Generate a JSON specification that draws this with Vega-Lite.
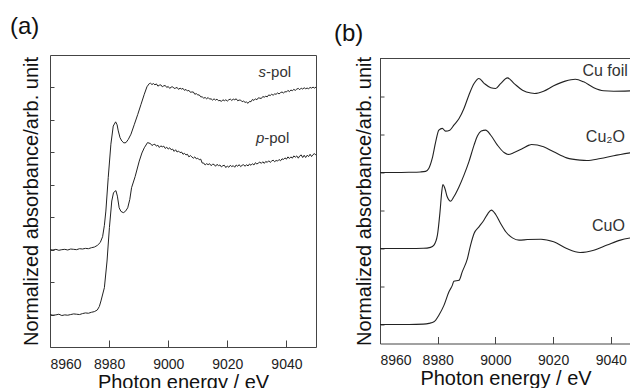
{
  "$schema": "https://vega.github.io/schema/vega-lite/v6.json",
  "padding": {"left": 9, "top": 14, "right": 0, "bottom": 0},
  "spacing": 64,
  "bounds": "flush",
  "center": true,
  "config": {
    "font": "Liberation Sans",
    "axis": {"labelFont": "Liberation Sans", "labelFontSize": 14, "labelColor": "#222", "titleFont": "Liberation Sans", "titleFontSize": 20, "titleFontWeight": "normal", "titleColor": "#111", "tickColor": "#444", "domainColor": "#444", "grid": false},
    "title": {"font": "Liberation Sans", "fontSize": 24, "fontWeight": "normal", "color": "#111", "anchor": "start", "frame": "group"}
  },
  "datasets": {
    "a": [
      {"series":"s","E":8960,"A":3.00},{"series":"s","E":8961,"A":2.99},{"series":"s","E":8962,"A":3.01},{"series":"s","E":8963,"A":2.98},{"series":"s","E":8964,"A":3.00},{"series":"s","E":8965,"A":3.01},{"series":"s","E":8966,"A":2.99},{"series":"s","E":8967,"A":3.02},{"series":"s","E":8968,"A":3.01},{"series":"s","E":8969,"A":3.00},{"series":"s","E":8970,"A":3.03},{"series":"s","E":8971,"A":3.02},{"series":"s","E":8972,"A":3.04},{"series":"s","E":8973,"A":3.03},{"series":"s","E":8974,"A":3.06},{"series":"s","E":8975,"A":3.08},{"series":"s","E":8976,"A":3.13},{"series":"s","E":8977,"A":3.22},{"series":"s","E":8977.8,"A":3.40},{"series":"s","E":8978.4,"A":3.75},{"series":"s","E":8978.9,"A":4.19},{"series":"s","E":8979.7,"A":5.22},{"series":"s","E":8980.6,"A":6.25},{"series":"s","E":8981.4,"A":6.81},{"series":"s","E":8982.2,"A":6.94},{"series":"s","E":8982.7,"A":6.85},{"series":"s","E":8983.1,"A":6.66},{"series":"s","E":8983.7,"A":6.45},{"series":"s","E":8984.3,"A":6.35},{"series":"s","E":8985.0,"A":6.29},{"series":"s","E":8985.7,"A":6.30},{"series":"s","E":8986.5,"A":6.40},{"series":"s","E":8987.4,"A":6.56},{"series":"s","E":8988.5,"A":6.85},{"series":"s","E":8989.7,"A":7.17},{"series":"s","E":8990.8,"A":7.48},{"series":"s","E":8991.9,"A":7.79},{"series":"s","E":8992.8,"A":8.02},{"series":"s","E":8993.6,"A":8.12},
      {"series":"s","E":8994.0,"A":8.13},{"series":"s","E":8994.5,"A":8.09},{"series":"s","E":8995.0,"A":8.12},{"series":"s","E":8995.5,"A":8.08},{"series":"s","E":8996.0,"A":8.11},{"series":"s","E":8996.5,"A":8.04},{"series":"s","E":8997.0,"A":8.07},{"series":"s","E":8997.5,"A":8.08},{"series":"s","E":8998.0,"A":8.02},{"series":"s","E":8998.5,"A":8.05},{"series":"s","E":8999.0,"A":8.06},{"series":"s","E":8999.5,"A":8.00},{"series":"s","E":9000.0,"A":8.03},{"series":"s","E":9000.5,"A":7.97},{"series":"s","E":9001.0,"A":8.01},{"series":"s","E":9001.5,"A":8.02},{"series":"s","E":9002.0,"A":7.97},{"series":"s","E":9002.5,"A":7.98},{"series":"s","E":9003.0,"A":8.00},{"series":"s","E":9003.5,"A":7.94},{"series":"s","E":9004.0,"A":7.98},{"series":"s","E":9004.5,"A":7.95},{"series":"s","E":9005.0,"A":7.97},{"series":"s","E":9005.5,"A":7.91},{"series":"s","E":9006.0,"A":7.94},{"series":"s","E":9006.5,"A":7.89},{"series":"s","E":9007.0,"A":7.91},{"series":"s","E":9007.5,"A":7.85},{"series":"s","E":9008.0,"A":7.86},{"series":"s","E":9008.5,"A":7.86},{"series":"s","E":9009.0,"A":7.79},{"series":"s","E":9009.5,"A":7.81},{"series":"s","E":9010.0,"A":7.77},{"series":"s","E":9010.5,"A":7.77},{"series":"s","E":9011.0,"A":7.71},{"series":"s","E":9011.5,"A":7.71},{"series":"s","E":9012.0,"A":7.67},{"series":"s","E":9012.5,"A":7.69},{"series":"s","E":9013.0,"A":7.65},{"series":"s","E":9013.5,"A":7.69},{"series":"s","E":9014.0,"A":7.64},{"series":"s","E":9014.5,"A":7.65},{"series":"s","E":9015.0,"A":7.61},{"series":"s","E":9015.5,"A":7.65},{"series":"s","E":9016.0,"A":7.61},{"series":"s","E":9016.5,"A":7.64},{"series":"s","E":9017.0,"A":7.59},{"series":"s","E":9017.5,"A":7.60},{"series":"s","E":9018.0,"A":7.57},{"series":"s","E":9018.5,"A":7.62},{"series":"s","E":9019.0,"A":7.59},{"series":"s","E":9019.5,"A":7.62},{"series":"s","E":9020.0,"A":7.58},{"series":"s","E":9020.5,"A":7.62},{"series":"s","E":9021.0,"A":7.64},{"series":"s","E":9021.5,"A":7.60},{"series":"s","E":9022.0,"A":7.64},{"series":"s","E":9022.5,"A":7.62},{"series":"s","E":9023.0,"A":7.65},{"series":"s","E":9023.5,"A":7.59},{"series":"s","E":9024.0,"A":7.61},{"series":"s","E":9024.5,"A":7.61},{"series":"s","E":9025.0,"A":7.56},{"series":"s","E":9025.5,"A":7.58},{"series":"s","E":9026.0,"A":7.54},{"series":"s","E":9026.5,"A":7.55},{"series":"s","E":9027.0,"A":7.51},{"series":"s","E":9027.5,"A":7.57},{"series":"s","E":9028.0,"A":7.56},{"series":"s","E":9028.5,"A":7.63},{"series":"s","E":9029.0,"A":7.60},{"series":"s","E":9029.5,"A":7.65},{"series":"s","E":9030.0,"A":7.62},{"series":"s","E":9030.5,"A":7.68},{"series":"s","E":9031.0,"A":7.67},{"series":"s","E":9031.5,"A":7.66},{"series":"s","E":9032.0,"A":7.72},{"series":"s","E":9032.5,"A":7.70},{"series":"s","E":9033.0,"A":7.73},{"series":"s","E":9033.5,"A":7.71},{"series":"s","E":9034.0,"A":7.77},{"series":"s","E":9034.5,"A":7.75},{"series":"s","E":9035.0,"A":7.79},{"series":"s","E":9035.5,"A":7.76},{"series":"s","E":9036.0,"A":7.80},{"series":"s","E":9036.5,"A":7.79},{"series":"s","E":9037.0,"A":7.83},{"series":"s","E":9037.5,"A":7.80},{"series":"s","E":9038.0,"A":7.84},{"series":"s","E":9038.5,"A":7.86},{"series":"s","E":9039.0,"A":7.83},{"series":"s","E":9039.5,"A":7.87},{"series":"s","E":9040.0,"A":7.86},{"series":"s","E":9040.5,"A":7.91},{"series":"s","E":9041.0,"A":7.87},{"series":"s","E":9041.5,"A":7.92},{"series":"s","E":9042.0,"A":7.90},{"series":"s","E":9042.5,"A":7.94},{"series":"s","E":9043.0,"A":7.91},{"series":"s","E":9043.5,"A":7.95},{"series":"s","E":9044.0,"A":7.97},{"series":"s","E":9044.5,"A":7.93},{"series":"s","E":9045.0,"A":7.98},{"series":"s","E":9045.5,"A":7.95},{"series":"s","E":9046.0,"A":7.99},{"series":"s","E":9046.5,"A":7.96},{"series":"s","E":9047.0,"A":7.98},{"series":"s","E":9047.5,"A":7.96},{"series":"s","E":9048.0,"A":8.00},{"series":"s","E":9048.5,"A":7.98},{"series":"s","E":9049.0,"A":8.01},{"series":"s","E":9049.5,"A":7.98},{"series":"s","E":9050.0,"A":8.01},
      {"series":"p","E":8960,"A":1.00},{"series":"p","E":8961,"A":0.98},{"series":"p","E":8962,"A":0.99},{"series":"p","E":8963,"A":1.01},{"series":"p","E":8964,"A":0.97},{"series":"p","E":8965,"A":0.99},{"series":"p","E":8966,"A":0.98},{"series":"p","E":8967,"A":1.00},{"series":"p","E":8968,"A":1.02},{"series":"p","E":8969,"A":1.01},{"series":"p","E":8970,"A":1.00},{"series":"p","E":8971,"A":1.03},{"series":"p","E":8972,"A":1.05},{"series":"p","E":8973,"A":1.04},{"series":"p","E":8974,"A":1.07},{"series":"p","E":8975,"A":1.09},{"series":"p","E":8976,"A":1.14},{"series":"p","E":8976.7,"A":1.25},{"series":"p","E":8977.25,"A":1.42},{"series":"p","E":8978.4,"A":1.83},{"series":"p","E":8979.3,"A":2.65},{"series":"p","E":8980.1,"A":3.68},{"series":"p","E":8980.9,"A":4.50},{"series":"p","E":8981.5,"A":4.76},{"series":"p","E":8982.3,"A":4.82},{"series":"p","E":8982.8,"A":4.65},{"series":"p","E":8983.4,"A":4.29},{"series":"p","E":8984.0,"A":4.18},{"series":"p","E":8984.8,"A":4.14},{"series":"p","E":8985.5,"A":4.18},{"series":"p","E":8986.3,"A":4.29},{"series":"p","E":8987.0,"A":4.55},{"series":"p","E":8987.6,"A":4.91},{"series":"p","E":8988.8,"A":5.25},{"series":"p","E":8990.2,"A":5.73},{"series":"p","E":8991.1,"A":5.98},{"series":"p","E":8991.9,"A":6.14},{"series":"p","E":8993.0,"A":6.30},
      {"series":"p","E":8994.0,"A":6.27},{"series":"p","E":8994.5,"A":6.21},{"series":"p","E":8995.0,"A":6.24},{"series":"p","E":8995.5,"A":6.25},{"series":"p","E":8996.0,"A":6.19},{"series":"p","E":8996.5,"A":6.22},{"series":"p","E":8997.0,"A":6.15},{"series":"p","E":8997.5,"A":6.20},{"series":"p","E":8998.0,"A":6.17},{"series":"p","E":8998.5,"A":6.19},{"series":"p","E":8999.0,"A":6.12},{"series":"p","E":8999.5,"A":6.16},{"series":"p","E":9000.0,"A":6.10},{"series":"p","E":9000.5,"A":6.14},{"series":"p","E":9001.0,"A":6.08},{"series":"p","E":9001.5,"A":6.10},{"series":"p","E":9002.0,"A":6.03},{"series":"p","E":9002.5,"A":6.08},{"series":"p","E":9003.0,"A":6.01},{"series":"p","E":9003.5,"A":6.04},{"series":"p","E":9004.0,"A":5.99},{"series":"p","E":9004.5,"A":6.01},{"series":"p","E":9005.0,"A":5.94},{"series":"p","E":9005.5,"A":5.97},{"series":"p","E":9006.0,"A":5.92},{"series":"p","E":9006.5,"A":5.94},{"series":"p","E":9007.0,"A":5.86},{"series":"p","E":9007.5,"A":5.90},{"series":"p","E":9008.0,"A":5.86},{"series":"p","E":9008.5,"A":5.82},{"series":"p","E":9009.0,"A":5.86},{"series":"p","E":9009.5,"A":5.80},{"series":"p","E":9010.0,"A":5.82},{"series":"p","E":9010.5,"A":5.77},{"series":"p","E":9011.0,"A":5.79},{"series":"p","E":9011.5,"A":5.67},{"series":"p","E":9012.0,"A":5.67},{"series":"p","E":9012.5,"A":5.61},{"series":"p","E":9013.0,"A":5.65},{"series":"p","E":9013.5,"A":5.62},{"series":"p","E":9014.0,"A":5.65},{"series":"p","E":9014.5,"A":5.59},{"series":"p","E":9015.0,"A":5.63},{"series":"p","E":9015.5,"A":5.63},{"series":"p","E":9016.0,"A":5.57},{"series":"p","E":9016.5,"A":5.63},{"series":"p","E":9017.0,"A":5.59},{"series":"p","E":9017.5,"A":5.61},{"series":"p","E":9018.0,"A":5.55},{"series":"p","E":9018.5,"A":5.59},{"series":"p","E":9019.0,"A":5.60},{"series":"p","E":9019.5,"A":5.53},{"series":"p","E":9020.0,"A":5.58},{"series":"p","E":9020.5,"A":5.54},{"series":"p","E":9021.0,"A":5.60},{"series":"p","E":9021.5,"A":5.56},{"series":"p","E":9022.0,"A":5.59},{"series":"p","E":9022.5,"A":5.54},{"series":"p","E":9023.0,"A":5.61},{"series":"p","E":9023.5,"A":5.57},{"series":"p","E":9024.0,"A":5.62},{"series":"p","E":9024.5,"A":5.56},{"series":"p","E":9025.0,"A":5.60},{"series":"p","E":9025.5,"A":5.62},{"series":"p","E":9026.0,"A":5.57},{"series":"p","E":9026.5,"A":5.62},{"series":"p","E":9027.0,"A":5.58},{"series":"p","E":9027.5,"A":5.64},{"series":"p","E":9028.0,"A":5.60},{"series":"p","E":9028.5,"A":5.65},{"series":"p","E":9029.0,"A":5.61},{"series":"p","E":9029.5,"A":5.68},{"series":"p","E":9030.0,"A":5.64},{"series":"p","E":9030.5,"A":5.67},{"series":"p","E":9031.0,"A":5.70},{"series":"p","E":9031.5,"A":5.66},{"series":"p","E":9032.0,"A":5.71},{"series":"p","E":9032.5,"A":5.66},{"series":"p","E":9033.0,"A":5.72},{"series":"p","E":9033.5,"A":5.69},{"series":"p","E":9034.0,"A":5.74},{"series":"p","E":9034.5,"A":5.69},{"series":"p","E":9035.0,"A":5.73},{"series":"p","E":9035.5,"A":5.76},{"series":"p","E":9036.0,"A":5.71},{"series":"p","E":9036.5,"A":5.75},{"series":"p","E":9037.0,"A":5.73},{"series":"p","E":9037.5,"A":5.78},{"series":"p","E":9038.0,"A":5.74},{"series":"p","E":9038.5,"A":5.80},{"series":"p","E":9039.0,"A":5.78},{"series":"p","E":9039.5,"A":5.83},{"series":"p","E":9040.0,"A":5.79},{"series":"p","E":9040.5,"A":5.86},{"series":"p","E":9041.0,"A":5.81},{"series":"p","E":9041.5,"A":5.86},{"series":"p","E":9042.0,"A":5.82},{"series":"p","E":9042.5,"A":5.89},{"series":"p","E":9043.0,"A":5.85},{"series":"p","E":9043.5,"A":5.89},{"series":"p","E":9044.0,"A":5.82},{"series":"p","E":9044.5,"A":5.89},{"series":"p","E":9045.0,"A":5.92},{"series":"p","E":9045.5,"A":5.84},{"series":"p","E":9046.0,"A":5.91},{"series":"p","E":9046.5,"A":5.84},{"series":"p","E":9047.0,"A":5.91},{"series":"p","E":9047.5,"A":5.87},{"series":"p","E":9048.0,"A":5.94},{"series":"p","E":9048.5,"A":5.87},{"series":"p","E":9049.0,"A":5.93},{"series":"p","E":9049.5,"A":5.96},{"series":"p","E":9050.0,"A":5.91}
    ],
    "b": [
      {"series":"Cu foil","E":8960,"A":9.00},{"series":"Cu foil","E":8965,"A":9.00},{"series":"Cu foil","E":8970,"A":9.01},{"series":"Cu foil","E":8974,"A":9.03},{"series":"Cu foil","E":8975.8,"A":9.06},{"series":"Cu foil","E":8976.9,"A":9.21},{"series":"Cu foil","E":8978.1,"A":9.74},{"series":"Cu foil","E":8979.3,"A":10.61},{"series":"Cu foil","E":8980.4,"A":11.23},{"series":"Cu foil","E":8981.6,"A":11.32},{"series":"Cu foil","E":8982.7,"A":11.18},{"series":"Cu foil","E":8984.2,"A":11.23},{"series":"Cu foil","E":8985.6,"A":11.49},{"series":"Cu foil","E":8987.4,"A":11.84},{"series":"Cu foil","E":8989.1,"A":12.37},{"series":"Cu foil","E":8990.8,"A":13.07},{"series":"Cu foil","E":8992.6,"A":13.68},{"series":"Cu foil","E":8994.3,"A":13.95},{"series":"Cu foil","E":8996.2,"A":13.68},{"series":"Cu foil","E":8998.4,"A":13.46},{"series":"Cu foil","E":9000.1,"A":13.42},{"series":"Cu foil","E":9001.8,"A":13.68},{"series":"Cu foil","E":9004.2,"A":13.98},{"series":"Cu foil","E":9006.5,"A":13.68},{"series":"Cu foil","E":9009.4,"A":13.33},{"series":"Cu foil","E":9012.3,"A":13.18},{"series":"Cu foil","E":9013.6,"A":13.16},{"series":"Cu foil","E":9016.7,"A":13.28},{"series":"Cu foil","E":9020.2,"A":13.56},{"series":"Cu foil","E":9024.2,"A":13.81},{"series":"Cu foil","E":9027.7,"A":13.91},{"series":"Cu foil","E":9030.6,"A":13.77},{"series":"Cu foil","E":9034.1,"A":13.46},{"series":"Cu foil","E":9037.5,"A":13.30},{"series":"Cu foil","E":9041,"A":13.28},{"series":"Cu foil","E":9047,"A":13.30},
      {"series":"Cu2O","E":8960,"A":5.00},{"series":"Cu2O","E":8970,"A":5.00},{"series":"Cu2O","E":8975,"A":5.01},{"series":"Cu2O","E":8977.5,"A":5.06},{"series":"Cu2O","E":8978.7,"A":5.18},{"series":"Cu2O","E":8979.9,"A":5.70},{"series":"Cu2O","E":8980.8,"A":6.93},{"series":"Cu2O","E":8981.4,"A":7.98},{"series":"Cu2O","E":8981.8,"A":8.37},{"series":"Cu2O","E":8982.5,"A":8.16},{"series":"Cu2O","E":8983.3,"A":7.72},{"series":"Cu2O","E":8984.5,"A":7.49},{"series":"Cu2O","E":8985.6,"A":7.72},{"series":"Cu2O","E":8987.4,"A":8.25},{"series":"Cu2O","E":8989.1,"A":8.86},{"series":"Cu2O","E":8990.8,"A":9.56},{"series":"Cu2O","E":8992.6,"A":10.44},{"series":"Cu2O","E":8993.8,"A":10.93},{"series":"Cu2O","E":8995.1,"A":11.18},{"series":"Cu2O","E":8996.6,"A":11.23},{"series":"Cu2O","E":8998.4,"A":10.96},{"series":"Cu2O","E":9000.7,"A":10.44},{"series":"Cu2O","E":9003.0,"A":10.05},{"series":"Cu2O","E":9004.4,"A":9.95},{"series":"Cu2O","E":9006.5,"A":10.05},{"series":"Cu2O","E":9009.4,"A":10.26},{"series":"Cu2O","E":9011.7,"A":10.44},{"series":"Cu2O","E":9012.5,"A":10.47},{"series":"Cu2O","E":9016.7,"A":10.35},{"series":"Cu2O","E":9020.2,"A":10.09},{"series":"Cu2O","E":9024.7,"A":9.77},{"series":"Cu2O","E":9029.4,"A":9.65},{"series":"Cu2O","E":9031.7,"A":9.63},{"series":"Cu2O","E":9036.4,"A":9.74},{"series":"Cu2O","E":9041,"A":9.88},{"series":"Cu2O","E":9047,"A":10.04},
      {"series":"CuO","E":8960,"A":1.00},{"series":"CuO","E":8970,"A":1.00},{"series":"CuO","E":8975,"A":1.02},{"series":"CuO","E":8977,"A":1.06},{"series":"CuO","E":8978.7,"A":1.14},{"series":"CuO","E":8980.4,"A":1.49},{"series":"CuO","E":8982.2,"A":2.02},{"series":"CuO","E":8983.9,"A":2.72},{"series":"CuO","E":8985.1,"A":3.07},{"series":"CuO","E":8985.6,"A":3.28},{"series":"CuO","E":8987.4,"A":3.33},{"series":"CuO","E":8988.5,"A":3.77},{"series":"CuO","E":8990.3,"A":4.47},{"series":"CuO","E":8991.4,"A":5.18},{"series":"CuO","E":8992.6,"A":5.79},{"series":"CuO","E":8994.3,"A":6.14},{"series":"CuO","E":8996.0,"A":6.49},{"series":"CuO","E":8997.4,"A":6.84},{"series":"CuO","E":8998.6,"A":7.02},{"series":"CuO","E":9000.1,"A":6.79},{"series":"CuO","E":9001.8,"A":6.32},{"series":"CuO","E":9003.6,"A":5.88},{"series":"CuO","E":9005.9,"A":5.56},{"series":"CuO","E":9008.2,"A":5.44},{"series":"CuO","E":9011.1,"A":5.47},{"series":"CuO","E":9015.8,"A":5.49},{"series":"CuO","E":9020.2,"A":5.35},{"series":"CuO","E":9024.7,"A":5.00},{"series":"CuO","E":9029.4,"A":4.79},{"series":"CuO","E":9034.1,"A":4.91},{"series":"CuO","E":9038.7,"A":5.18},{"series":"CuO","E":9043.3,"A":5.44},{"series":"CuO","E":9047,"A":5.56}
    ]
  },
  "hconcat": [
    {
      "width": 266,
      "height": 292,
      "title": {"text": "(a)", "dx": -40, "offset": 16},
      "view": {"stroke": "#444", "strokeWidth": 1},
      "layer": [
        {
          "data": {"name": "a"},
          "mark": {"type": "line", "color": "#222", "strokeWidth": 1},
          "encoding": {
            "x": {"field": "E", "type": "quantitative", "scale": {"domain": [8960, 9050], "nice": false, "zero": false},
                  "axis": {"title": "Photon energy / eV", "values": [8960, 8980, 9000, 9020, 9040], "format": "d", "tickSize": -7, "domain": false, "labelPadding": 17, "titlePadding": 1}},
            "y": {"field": "A", "type": "quantitative", "scale": {"domain": [0, 9], "nice": false, "zero": false},
                  "axis": {"title": "Normalized absorbance/arb. unit", "values": [1, 2, 3, 4, 5, 6, 7, 8], "labels": false, "tickSize": -4, "domain": false, "titlePadding": 8}},
            "detail": {"field": "series"}
          }
        },
        {
          "data": {"values": [{}]},
          "mark": {"type": "text", "text": "s", "fontStyle": "italic", "align": "right", "baseline": "alphabetic", "fontSize": 15, "color": "#333"},
          "encoding": {"x": {"datum": 9033.1}, "y": {"datum": 8.32}}
        },
        {
          "data": {"values": [{}]},
          "mark": {"type": "text", "text": "-pol", "align": "left", "baseline": "alphabetic", "fontSize": 15, "color": "#333"},
          "encoding": {"x": {"datum": 9033.1}, "y": {"datum": 8.32}}
        },
        {
          "data": {"values": [{}]},
          "mark": {"type": "text", "text": "p", "fontStyle": "italic", "align": "right", "baseline": "alphabetic", "fontSize": 15, "color": "#333"},
          "encoding": {"x": {"datum": 9032.5}, "y": {"datum": 6.28}}
        },
        {
          "data": {"values": [{}]},
          "mark": {"type": "text", "text": "-pol", "align": "left", "baseline": "alphabetic", "fontSize": 15, "color": "#333"},
          "encoding": {"x": {"datum": 9032.5}, "y": {"datum": 6.28}}
        }
      ]
    },
    {
      "width": 251,
      "height": 285,
      "title": {"text": "(b)", "dx": -46, "offset": 10},
      "view": {"stroke": null},
      "layer": [
        {
          "data": {"name": "b"},
          "mark": {"type": "line", "color": "#222", "strokeWidth": 1.1, "interpolate": "monotone"},
          "encoding": {
            "x": {"field": "E", "type": "quantitative", "scale": {"domain": [8960, 9047], "nice": false, "zero": false},
                  "axis": {"title": "Photon energy / eV", "values": [8960, 8980, 9000, 9020, 9040], "format": "d", "tickSize": -7, "domain": true, "labelPadding": 17, "titlePadding": 1}},
            "y": {"field": "A", "type": "quantitative", "scale": {"domain": [0, 15], "nice": false, "zero": false},
                  "axis": {"title": "Normalized absorbance/arb. unit", "values": [1, 2, 3, 4, 5, 6, 7, 8, 9, 10, 11, 12, 13, 14], "labels": false, "tickSize": -4, "domain": true, "titlePadding": 5}},
            "detail": {"field": "series"}
          }
        },
        {
          "data": {"values": [{}]},
          "mark": {"type": "rule", "color": "#444", "strokeWidth": 1},
          "encoding": {"y": {"datum": 15}}
        },
        {
          "data": {"values": [{}]},
          "mark": {"type": "text", "text": "Cu foil", "align": "right", "baseline": "alphabetic", "fontSize": 16, "color": "#333"},
          "encoding": {"x": {"datum": 9045.9}, "y": {"datum": 14.08}}
        },
        {
          "data": {"values": [{}]},
          "mark": {"type": "text", "text": "Cu₂O", "align": "right", "baseline": "alphabetic", "fontSize": 16, "color": "#333"},
          "encoding": {"x": {"datum": 9044.9}, "y": {"datum": 10.6}}
        },
        {
          "data": {"values": [{}]},
          "mark": {"type": "text", "text": "CuO", "align": "right", "baseline": "alphabetic", "fontSize": 16, "color": "#333"},
          "encoding": {"x": {"datum": 9044.9}, "y": {"datum": 5.92}}
        }
      ]
    }
  ]
}
